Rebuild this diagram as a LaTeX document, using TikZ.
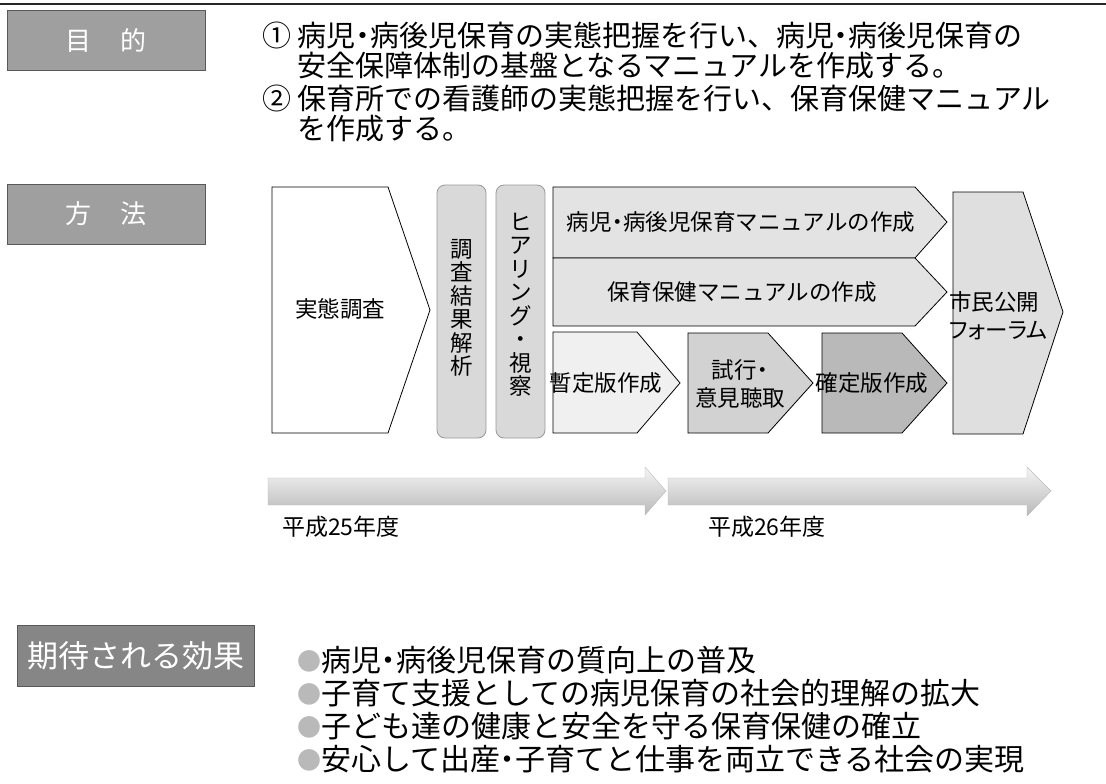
\documentclass[tikz,border=0pt]{standalone}
\usepackage{fontspec}
\setmainfont{Noto Sans CJK JP}
\usetikzlibrary{positioning}

\tikzset{
  headbox/.style={draw=gray!70!black, fill=gray!75, text=white, inner sep=0pt},
  stepshape/.style={draw=black, line width=0.8pt},
  barbox/.style={draw=gray!80, line width=0.8pt, fill=gray!30, rounded corners=8pt},
  bodytext/.style={anchor=west, inner sep=0pt, font=\fontsize{29}{32}\selectfont},
  efftext/.style={anchor=west, inner sep=0pt, font=\fontsize{30}{32}\selectfont},
  steptext/.style={inner sep=0pt, font=\fontsize{22.5}{28}\selectfont},
  vtext/.style={inner sep=0pt, align=center, font=\fontsize{22.5}{23.5}\selectfont},
  yearbar/.style={draw=gray!55, top color=gray!8, bottom color=gray!55}
}
% narrow middle dot and grey bullet
\newcommand{\ndot}{{\addfontfeature{RawFeature=+palt}・}}
\newcommand{\effbullet}{{\color{gray!55}\fontsize{24}{24}\selectfont\raisebox{1pt}{●}}}

\begin{document}
\begin{tikzpicture}[x=1pt, y=-1pt]
  \useasboundingbox (0,0) rectangle (1106,784);

  % top rule
  \coordinate (ruleL) at (0,4);
  \coordinate (ruleR) at (1106,4);
  \draw[line width=2pt, black!85] (ruleL) -- (ruleR);

  % section headings
  \node[headbox, minimum width=198pt, minimum height=60pt,
        font=\fontsize{26}{28}\selectfont] (aim) at (106,40) {目\hspace{1.1em}的};
  \node[headbox, minimum width=198pt, minimum height=60pt,
        font=\fontsize{26}{28}\selectfont] (method) at (106,214) {方\hspace{1.1em}法};
  \node[headbox, fill=gray!95, minimum width=237pt, minimum height=61pt,
        font=\fontsize{31}{33}\selectfont] (effect) at (136,656) {期待される効果};

  % aims
  \node[bodytext] (aim1) at (262,35) {① 病児\ndot 病後児保育の実態把握を行い、病児\ndot 病後児保育の};
  \node[bodytext] (aim1b) at (297,66) {安全保障体制の基盤となるマニュアルを作成する。};
  \node[bodytext] (aim2) at (262,98) {② 保育所での看護師の実態把握を行い、保育保健マニュアル};
  \node[bodytext] (aim2b) at (297,129) {を作成する。};

  % method: survey
  \draw[stepshape, fill=white] (272,187) -- (388,187) -- (430,310) -- (388,433) -- (272,433) -- cycle;
  \node[steptext] (survey) at (340,309) {実態調査};

  % method: analysis and hearing
  \draw[barbox] (437,185) rectangle (486,438);
  \node[vtext] (analysis) at (461.5,308) {調\\査\\結\\果\\解\\析};
  \draw[barbox] (496,185) rectangle (545,438);
  \node[vtext] (hearing) at (520.5,305) {ヒ\\ア\\リ\\ン\\グ\\・\\視\\察};

  % method: manuals
  \draw[stepshape, fill=gray!22] (553,187) -- (915,187) -- (947,222) -- (915,258) -- (553,258) -- cycle;
  \node[steptext] (manual1) at (741,222) {病児\ndot 病後児保育マニュアルの作成};
  \draw[stepshape, fill=gray!22] (553,258) -- (915,258) -- (947,292) -- (915,326) -- (553,326) -- cycle;
  \node[steptext] (manual2) at (742,292) {保育保健マニュアルの作成};

  % method: draft, trial, final
  \draw[stepshape, fill=gray!12] (553,332) -- (637,332) -- (680,383) -- (637,433) -- (553,433) -- cycle;
  \node[steptext] (draft) at (606,383) {暫定版作成};
  \draw[stepshape, fill=gray!35] (688,333) -- (768,333) -- (813,383) -- (768,433) -- (688,433) -- cycle;
  \node[steptext, align=center] (trial) at (740,384) {試行\ndot\\意見聴取};
  \draw[stepshape, fill=gray!55] (822,333) -- (902,333) -- (947,383) -- (902,433) -- (822,433) -- cycle;
  \node[steptext] (final) at (872,383) {確定版作成};

  % method: forum
  \draw[stepshape, fill=gray!25] (953,192) -- (1023,192) -- (1063,312) -- (1023,434) -- (953,434) -- cycle;
  \node[steptext, align=left, anchor=west,
        font=\fontsize{22.5}{28}\selectfont\addfontfeature{RawFeature=+palt}] (forum) at (949,316) {市民公開\\フォーラム};

  % fiscal years
  \shade[yearbar] (268,478) -- (645,478) -- (645,467) -- (666,491) -- (645,515) -- (645,505) -- (268,505) -- cycle;
  \shade[yearbar] (668,478) -- (1027,478) -- (1027,467) -- (1051,491) -- (1027,516) -- (1027,505) -- (668,505) -- cycle;
  \node[steptext, anchor=west, font=\fontsize{23}{25}\selectfont] (fy25) at (282,527) {平成25年度};
  \node[steptext, anchor=west, font=\fontsize{23}{25}\selectfont] (fy26) at (708,527) {平成26年度};

  % expected effects
  \node[efftext] (eff1) at (297,660) {\effbullet 病児\ndot 病後児保育の質向上の普及};
  \node[efftext] (eff2) at (297,693) {\effbullet 子育て支援としての病児保育の社会的理解の拡大};
  \node[efftext] (eff3) at (297,726) {\effbullet 子ども達の健康と安全を守る保育保健の確立};
  \node[efftext] (eff4) at (297,759) {\effbullet 安心して出産\ndot 子育てと仕事を両立できる社会の実現};
\end{tikzpicture}
\end{document}
